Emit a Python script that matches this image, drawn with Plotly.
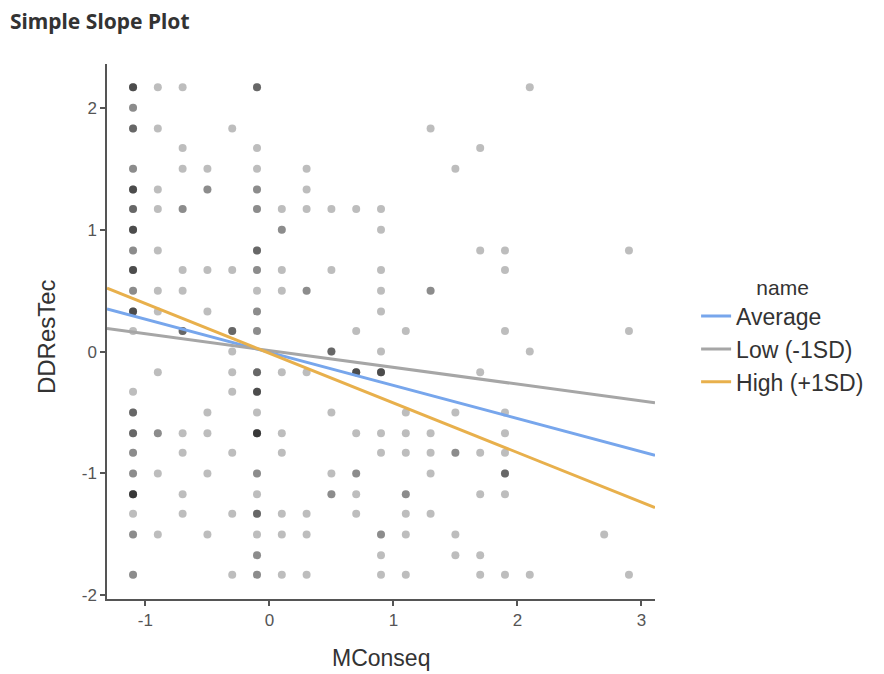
import numpy as np
import plotly.graph_objects as go

# ---- scatter data (x, y, number of overlapping observations) ----
pt_x = ([-1.1] * 21 + [-0.9] * 11 + [-0.7] * 11 + [-0.5] * 8 + [-0.3] * 9 +
        [-0.1] * 20 + [0.1] * 10 + [0.3] * 8 + [0.5] * 6 + [0.7] * 7 +
        [0.9] * 12 + [1.1] * 8 + [1.3] * 6 + [1.5] * 5 + [1.7] * 7 +
        [1.9] * 9 + [2.1] * 3 + [2.7] * 1 + [2.9] * 3)

pt_y = [
    # -1.1
    2.17, 2.00, 1.83, 1.50, 1.33, 1.17, 1.00, 0.83, 0.67, 0.50, 0.33, 0.17,
    -0.33, -0.50, -0.67, -0.83, -1.00, -1.17, -1.33, -1.50, -1.83,
    # -0.9
    2.17, 1.83, 1.33, 1.17, 0.83, 0.50, 0.33, -0.17, -0.67, -1.00, -1.50,
    # -0.7
    2.17, 1.67, 1.50, 1.17, 0.67, 0.50, 0.17, -0.67, -0.83, -1.17, -1.33,
    # -0.5
    1.50, 1.33, 0.67, 0.33, -0.50, -0.67, -1.00, -1.50,
    # -0.3
    1.83, 0.67, 0.17, 0.00, -0.17, -0.33, -0.83, -1.33, -1.83,
    # -0.1
    2.17, 1.67, 1.50, 1.33, 1.17, 0.83, 0.67, 0.50, 0.33, 0.17,
    -0.17, -0.33, -0.50, -0.67, -1.00, -1.17, -1.33, -1.50, -1.67, -1.83,
    # 0.1
    1.17, 1.00, 0.67, 0.50, -0.17, -0.67, -0.83, -1.33, -1.50, -1.83,
    # 0.3
    1.50, 1.33, 1.17, 0.50, -0.17, -1.33, -1.50, -1.83,
    # 0.5
    1.17, 0.67, 0.00, -0.50, -1.00, -1.17,
    # 0.7
    1.17, 0.17, -0.17, -0.67, -1.00, -1.17, -1.33,
    # 0.9
    1.17, 1.00, 0.67, 0.50, 0.33, 0.00, -0.17, -0.67, -0.83, -1.50, -1.67, -1.83,
    # 1.1
    0.17, -0.50, -0.67, -0.83, -1.17, -1.33, -1.50, -1.83,
    # 1.3
    1.83, 0.50, -0.67, -0.83, -1.00, -1.33,
    # 1.5
    1.50, -0.50, -0.83, -1.50, -1.67,
    # 1.7
    1.67, 0.83, -0.17, -0.83, -1.17, -1.67, -1.83,
    # 1.9
    0.83, 0.67, 0.17, -0.50, -0.67, -0.83, -1.00, -1.17, -1.83,
    # 2.1
    2.17, 0.00, -1.83,
    # 2.7
    -1.50,
    # 2.9
    0.83, 0.17, -1.83,
]

pt_n = [
    4, 2, 3, 2, 4, 3, 4, 2, 4, 2, 4, 1, 1, 3, 3, 2, 2, 5, 1, 2, 2,
    1, 1, 1, 1, 1, 1, 1, 1, 2, 1, 1,
    1, 1, 1, 2, 1, 1, 3, 1, 1, 1, 1,
    1, 2, 1, 1, 1, 1, 1, 1,
    1, 1, 3, 1, 1, 1, 1, 1, 1,
    3, 1, 1, 2, 2, 3, 2, 1, 2, 2, 3, 4, 1, 5, 2, 1, 3, 1, 2, 2,
    1, 2, 1, 1, 1, 1, 1, 1, 1, 1,
    1, 1, 1, 2, 1, 1, 1, 1,
    1, 1, 3, 1, 1, 2,
    1, 1, 4, 1, 2, 1, 1,
    1, 1, 1, 1, 1, 1, 4, 1, 1, 2, 1, 1,
    1, 1, 1, 1, 2, 1, 1, 1,
    1, 2, 1, 1, 1, 1,
    1, 1, 2, 1, 1,
    1, 1, 1, 1, 1, 1, 1,
    1, 1, 1, 1, 1, 1, 3, 1, 1,
    1, 1, 1,
    1,
    1, 1, 1,
]

# ---- simple slope lines ----
line_x = [-1.31, 3.11]
avg_y = [0.35, -0.85]
low_y = [0.19, -0.42]
high_y = [0.52, -1.28]

series_names = ["Average", "Low (-1SD)", "High (+1SD)"]
series_colors = ["#77a6ec", "#a6a6a6", "#e8b04c"]

x_ticks = [-1, 0, 1, 2, 3]
x_ticktext = ["-1", "0", "1", "2", "3"]
y_ticks = [-2, -1, 0, 1, 2]
y_ticktext = ["-2", "-1", "0", "1", "2"]

sx = np.repeat(np.array(pt_x), pt_n)
sy = np.repeat(np.array(pt_y), pt_n)

fig = go.Figure()
fig.add_trace(go.Scatter(
    x=sx, y=sy, mode="markers", showlegend=False, hoverinfo="skip",
    marker=dict(color="black", opacity=0.26, size=8, line=dict(width=0)),
))
for name, ys, col in zip(series_names, [avg_y, low_y, high_y], series_colors):
    fig.add_trace(go.Scatter(
        x=line_x, y=ys, mode="lines", name=name,
        line=dict(color=col, width=3), hoverinfo="skip",
    ))

axis_common = dict(
    showgrid=False, zeroline=False, showline=True, linecolor="#555555",
    linewidth=1.5, ticks="outside", ticklen=5, tickcolor="#555555",
    tickwidth=1.5, tickfont=dict(family="Liberation Sans", size=17, color="#555555"),
)

# the page body adds an 8px offset, so sizes are chosen to fill the 884x674 window
W, H = 876, 666
fig.update_layout(
    width=W, height=H,
    margin=dict(l=99, r=W - 99 - 548, t=56, b=H - 56 - 535),
    paper_bgcolor="white", plot_bgcolor="white",
    title=dict(text="<b>Simple Slope Plot</b>", x=2 / W, xref="container",
               xanchor="left", y=1 - 14 / H, yanchor="middle",
               font=dict(family="Noto Sans", size=21, color="#333333")),
    xaxis=dict(range=[-1.31, 3.11], tickvals=x_ticks, ticktext=x_ticktext, **axis_common),
    yaxis=dict(range=[-2.03, 2.36], tickvals=y_ticks, ticktext=y_ticktext, **axis_common),
    legend=dict(
        x=1.075, xanchor="left", y=0.492, yanchor="middle",
        title=dict(text="name", side="top center",
                   font=dict(family="Liberation Sans", size=21, color="#333333")),
        font=dict(family="Liberation Sans", size=23, color="#333333"),
        bgcolor="rgba(0,0,0,0)",
    ),
    annotations=[
        dict(text="MConseq", xref="paper", yref="paper", x=0.5, y=-0.11,
             xanchor="center", yanchor="middle", showarrow=False,
             font=dict(family="Liberation Sans", size=23, color="#333333")),
        dict(text="DDResTec", xref="paper", yref="paper", x=-0.109, y=0.49,
             xanchor="center", yanchor="middle", showarrow=False, textangle=-90,
             font=dict(family="Liberation Sans", size=24, color="#333333")),
    ],
    hovermode=False,
)

fig.write_html("out.html")
